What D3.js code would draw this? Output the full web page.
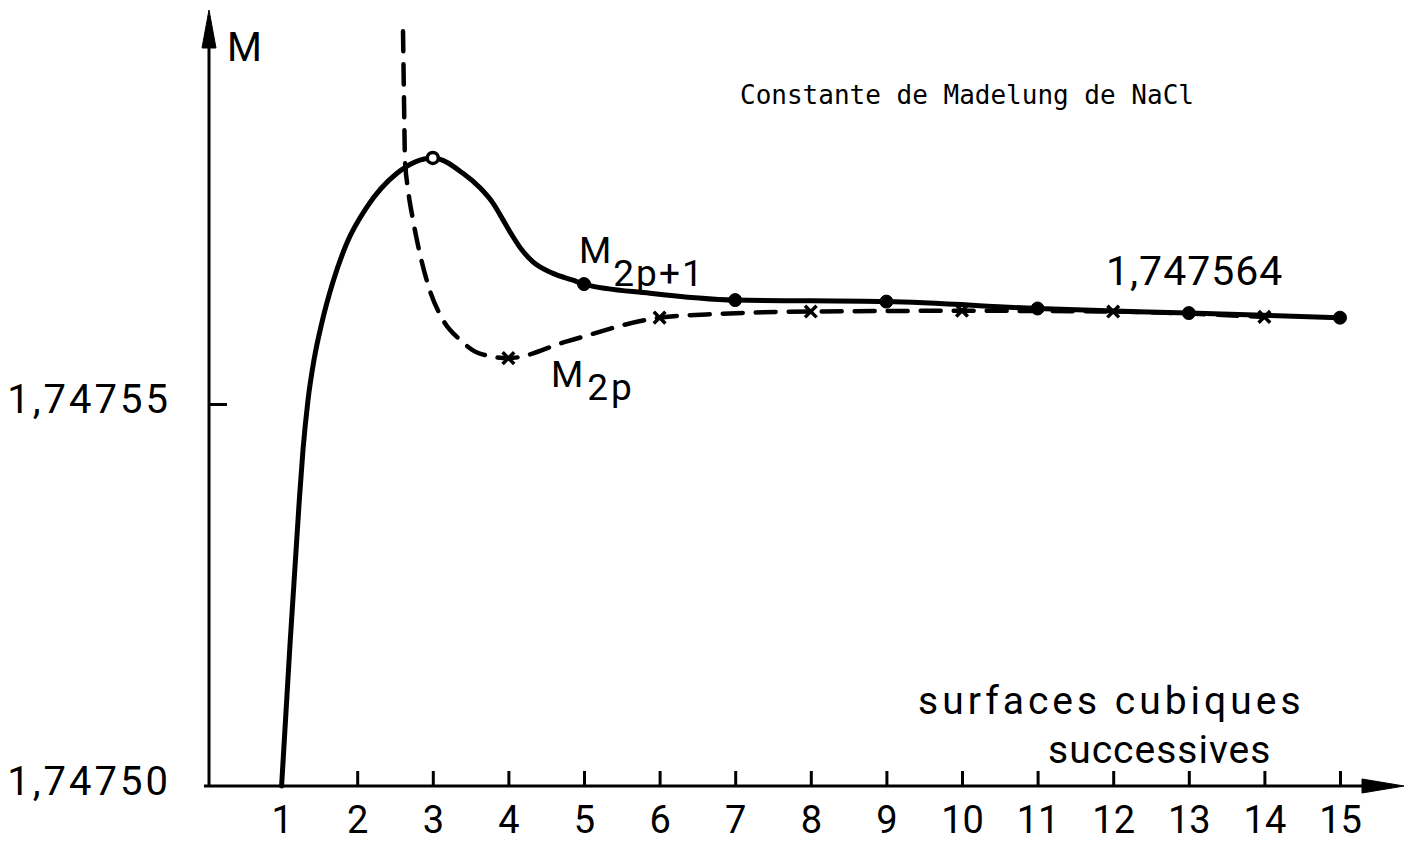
<!DOCTYPE html>
<html>
<head>
<meta charset="utf-8">
<script src="https://cdn.jsdelivr.net/npm/d3@7"></script>
<style>
  body { margin: 0; background: #fff; }
  svg text { fill: #000; }
</style>
</head>
<body>
<div id="chart"></div>
<script>
// surfaces cubiques successives (x) and tick values
const surfaceTicks = d3.range(1, 16);
const mTicks = [1.74750, 1.74755];

// M(2p+1): odd surfaces, solid curve with dots
const oddX = [3, 5, 7, 9, 11, 13, 15];
const oddM = [1.7475822, 1.7475657, 1.7475636, 1.7475634, 1.7475625, 1.7475619, 1.7475613];

// M(2p): even surfaces, dashed curve with crosses
const evenX = [4, 6, 8, 10, 12, 14];
const evenM = [1.7475560, 1.7475613, 1.7475621, 1.7475622, 1.7475621, 1.7475614];

const solidGuideX = [1, 1.111, 1.230, 1.283, 1.349, 1.429, 1.534, 1.680, 1.865, 2.130, 2.526,
                     3.399, 3.624, 3.796, 3.929, 4.048, 4.153, 4.325, 4.590, 4.854, 5.873];
const solidGuideM = [1.74750, 1.7475185, 1.7475368, 1.7475440, 1.7475505, 1.7475558, 1.7475607, 1.7475660, 1.7475711, 1.7475758, 1.7475802,
                     1.7475802, 1.7475783, 1.7475763, 1.7475741, 1.7475721, 1.7475705, 1.7475686, 1.7475671, 1.7475662, 1.7475645];
const dashGuideX = [2.606, 2.619, 2.632, 2.672, 2.738, 2.831, 2.937, 3.135, 3.36, 3.624, 4.775, 6.8];
const dashGuideM = [1.7475988, 1.7475899, 1.7475820, 1.7475781, 1.7475741, 1.7475696, 1.7475656, 1.7475610, 1.7475584, 1.7475566,
                    1.7475582, 1.7475618];

const W = 1413, H = 850;
const FONT = 'Roboto, "DejaVu Sans", sans-serif';

const x = d3.scaleLinear().domain([0, 15]).range([206, 1340]);
const y = d3.scaleLinear().domain([1.7475, 1.74755]).range([786, 404]);

const svg = d3.select('#chart').append('svg')
  .attr('width', W).attr('height', H)
  .attr('viewBox', [0, 0, W, H]);

svg.append('rect').attr('width', W).attr('height', H).attr('fill', '#fff');

const fmt = v => d3.format('.5f')(v).replace('.', ',');

// x axis: ticks pointing up, numbers below
const xAxis = svg.append('g')
  .attr('transform', `translate(0,${y(1.7475)})`)
  .call(d3.axisBottom(x).tickValues(surfaceTicks).tickSizeInner(-15).tickSizeOuter(0).tickPadding(20));
xAxis.select('.domain').remove();
xAxis.selectAll('.tick line').attr('stroke', '#000').attr('stroke-width', 3);
xAxis.selectAll('.tick text')
  .attr('font-family', FONT).attr('font-size', 38).attr('fill', '#000');

// y axis: tick pointing right, values on the left
const yAxis = svg.append('g')
  .attr('transform', `translate(209,0)`)
  .call(d3.axisLeft(y).tickValues(mTicks).tickFormat(fmt).tickSizeInner(-18).tickSizeOuter(0).tickPadding(38));
yAxis.select('.domain').remove();
yAxis.selectAll('.tick line').attr('stroke', '#000').attr('stroke-width', 3)
  .attr('opacity', d => d === 1.7475 ? 0 : 1);
yAxis.selectAll('.tick text')
  .attr('font-family', FONT).attr('font-size', 40).attr('fill', '#000')
  .attr('letter-spacing', 3).attr('dy', '0.2em');

// axis lines with arrow heads
const axisG = svg.append('g').attr('stroke', '#000').attr('stroke-width', 3).attr('fill', '#000');
axisG.append('line').attr('x1', 209).attr('y1', y(1.7475)).attr('x2', 209).attr('y2', 40);
axisG.append('path').attr('d', 'M209,10 L202,48 L216,48 Z').attr('stroke-width', 1);
axisG.append('line').attr('x1', 204).attr('y1', y(1.7475)).attr('x2', 1370).attr('y2', y(1.7475));
axisG.append('path').attr('d', `M1404,${y(1.7475)} L1362,${y(1.7475) - 7} L1362,${y(1.7475) + 7} Z`).attr('stroke-width', 1);

// curves
const solidPts = d3.sort(
  oddX.map((v, i) => [v, oddM[i]]).concat(solidGuideX.map((v, i) => [v, solidGuideM[i]])),
  d => d[0]);
const dashPts = d3.sort(
  evenX.map((v, i) => [v, evenM[i]]).concat(dashGuideX.map((v, i) => [v, dashGuideM[i]])),
  d => d[0]);

const line = d3.line()
  .x(d => x(d[0])).y(d => y(d[1]))
  .curve(d3.curveMonotoneX);

svg.append('path').datum(dashPts)
  .attr('d', line).attr('fill', 'none')
  .attr('stroke', '#000').attr('stroke-width', 4.5)
  .attr('stroke-dasharray', '20,13').attr('stroke-linecap', 'round');

svg.append('path').datum(solidPts)
  .attr('d', line).attr('fill', 'none')
  .attr('stroke', '#000').attr('stroke-width', 5).attr('stroke-linecap', 'round');

// markers
svg.append('g').selectAll('circle')
  .data(oddX.map((v, i) => [v, oddM[i]]))
  .join('circle')
  .attr('cx', d => x(d[0])).attr('cy', d => y(d[1]))
  .attr('r', d => d[0] === 3 ? 5.5 : 6.5)
  .attr('fill', d => d[0] === 3 ? '#fff' : '#000')
  .attr('stroke', '#000').attr('stroke-width', d => d[0] === 3 ? 3.5 : 1);

svg.append('g').selectAll('path')
  .data(evenX.map((v, i) => [v, evenM[i]]))
  .join('path')
  .attr('transform', d => `translate(${x(d[0])},${y(d[1])})`)
  .attr('d', d3.symbol(d3.symbolX, 90))
  .attr('fill', 'none').attr('stroke', '#000').attr('stroke-width', 3.5);

// labels
const label = (tx, ty, txt, size, extra) => {
  const t = svg.append('text').attr('x', tx).attr('y', ty)
    .attr('font-family', FONT).attr('font-size', size).text(txt);
  if (extra) extra(t);
  return t;
};

label(227, 61, 'M', 40);

svg.append('text').attr('x', 740).attr('y', 104)
  .attr('font-family', '"DejaVu Sans Mono", "Liberation Mono", monospace')
  .attr('font-size', 26).text('Constante de Madelung de NaCl');

const m1 = svg.append('text').attr('x', 579).attr('y', 263)
  .attr('font-family', FONT).attr('font-size', 37);
m1.append('tspan').text('M');
m1.append('tspan').attr('dx', 2).attr('dy', 23).attr('letter-spacing', 2).text('2p+1');

const m2 = svg.append('text').attr('x', 551).attr('y', 387)
  .attr('font-family', FONT).attr('font-size', 37);
m2.append('tspan').text('M');
m2.append('tspan').attr('dx', 4).attr('dy', 13).attr('letter-spacing', 3).text('2p');

label(1106, 285, '1,747564', 41, t => t.attr('letter-spacing', 1));

label(918, 714, 'surfaces cubiques', 39, t => t.attr('letter-spacing', 4));
label(1048, 763, 'successives', 39, t => t.attr('letter-spacing', 1));
</script>
</body>
</html>
